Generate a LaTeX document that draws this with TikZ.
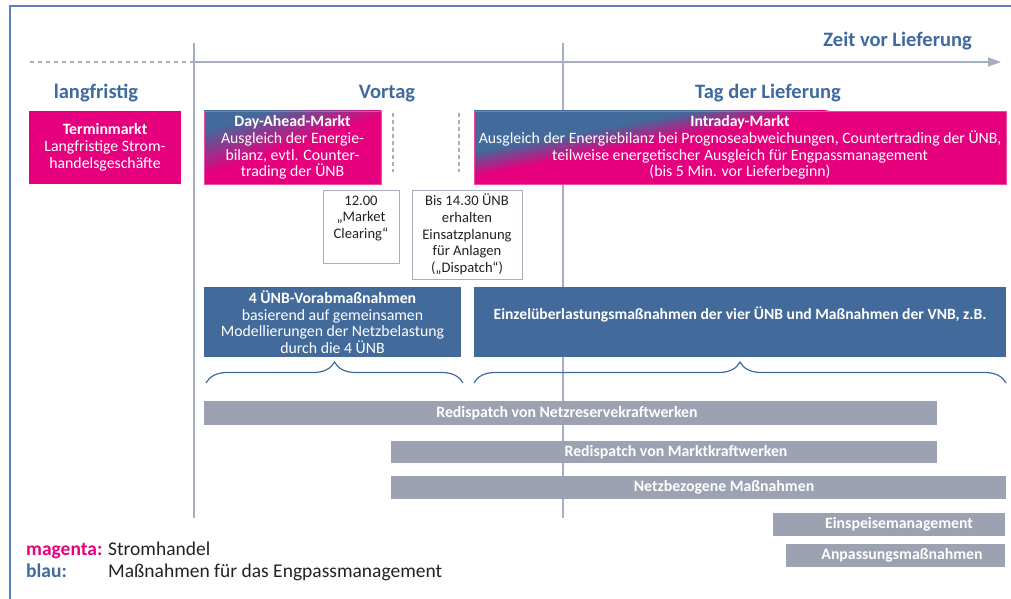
\documentclass[tikz,border=0pt]{standalone}
\usepackage{fontspec}
\setmainfont{Carlito}
\usetikzlibrary{decorations.pathreplacing,arrows.meta}
\definecolor{mg}{HTML}{E6007E}
\definecolor{bl}{HTML}{426A9B}
\definecolor{hbl}{HTML}{3E6A9F}
\definecolor{gbar}{HTML}{9CA2B1}
\definecolor{lgray}{HTML}{A7AEBF}
\definecolor{frame}{HTML}{5A82B8}
\definecolor{txtdark}{HTML}{222222}
% diagonal blue (top-left) -> magenta (bottom/right) gradient, drawn as stacked half-planes
% #1 x0, #2 y0 (top-left corner), #3 shift of isoline along top edge per unit, #4 along left edge per unit,
% #5 value where fully magenta, #6 value where fully blue, #7/#8 clip corners
\newcommand\gradstrips[8]{%
  \begin{scope}
    \clip (#7) rectangle (#8);
    \fill[mg] (#7) rectangle (#8);
    \foreach \i in {0,...,24}{
      \pgfmathsetmacro\cc{#5-(#5-#6)*\i/24}
      \pgfmathtruncatemacro\pp{100*\i/24}
      \pgfmathsetmacro\yy{#2+#4*\cc}
      \fill[bl!\pp!mg] ({#1-3*#3},{\yy+3*#4}) -- ({#1+3*#3},{\yy-3*#4})
        -- ({#1+3*#3-400},{\yy-3*#4-2000}) -- ({#1-3*#3-400},{\yy+3*#4-2000}) -- cycle;
    }
  \end{scope}}
\begin{document}
\begin{tikzpicture}[x=1pt,y=-1pt,
  boxtxt/.style={inner sep=0pt, align=center, text=white, font=\fontsize{15.8}{16.7}\selectfont},
  gradbox/.style={boxtxt, draw=mg!70, line width=0.6pt},
  whitebox/.style={draw=lgray, line width=1pt, fill=white, inner sep=0pt},
  darktxt/.style={inner sep=0pt, align=center, text=txtdark, font=\fontsize{14.6}{16.7}\selectfont},
  heading/.style={inner sep=0pt, text=hbl, font=\fontsize{20.5}{22}\selectfont\bfseries},
  barbox/.style={fill=gbar, inner sep=0pt},
  bartxt/.style={inner sep=0pt, text=white, font=\fontsize{15.8}{17}\selectfont\bfseries},
  vline/.style={draw=lgray, line width=1.3pt},
  bracestyle/.style={draw=hbl, line width=1.2pt, decorate, decoration={brace, amplitude=21pt}},
  legtxt/.style={inner sep=0pt, anchor=base west, font=\fontsize{19.5}{21}\selectfont}
]
\useasboundingbox (0,0) rectangle (1011,599);
% frame
\draw[frame, line width=1.4pt] (10,599) -- (10,6) -- (1011,6);
% time axis
\coordinate (ta0) at (30,62);
\coordinate (ta1) at (194,62);
\coordinate (ta2) at (1001,62);
\draw[lgray, line width=1.8pt, dash pattern=on 4pt off 4pt] (ta0) -- (ta1);
\draw[lgray, line width=1.8pt, -{Triangle[length=13pt,width=9pt]}] (ta1) -- (ta2);
% vertical separators
\coordinate (v1a) at (194,43); \coordinate (v1b) at (194,518);
\coordinate (v2a) at (563,43); \coordinate (v2b) at (563,518);
\draw[vline] (v1a) -- (v1b);
\draw[vline] (v2a) -- (v2b);
% headings
\node[heading, anchor=base east] (zeit) at (972,47) {Zeit vor Lieferung};
\node[heading, anchor=base] (lang) at (96,99) {langfristig};
\node[heading, anchor=base] (vortag) at (387,99) {Vortag};
\node[heading, anchor=base] (tag) at (768,99) {Tag der Lieferung};
% top boxes
\node[boxtxt, fill=mg, minimum width=152pt, minimum height=73pt] (termin) at (105,147.5)
  {\textbf{Terminmarkt}\\Langfristige Strom-\\handelsgeschäfte};
\coordinate (da1) at (204,111); \coordinate (da2) at (381,184);
\gradstrips{204}{111}{132.75}{43.8}{1.5}{0.5}{da1}{da2}
\node[gradbox, minimum width=177pt, minimum height=73pt] (dayahead) at (292.5,147.5)
  {\textbf{Day-Ahead-Markt}\\Ausgleich der Energie-\\bilanz, evtl. Counter-\\trading der ÜNB};
\coordinate (id1) at (474,111); \coordinate (id2) at (1006,184);
\gradstrips{474}{111}{287.3}{54}{1.22}{0.78}{id1}{id2}
\node[gradbox, minimum width=532pt, minimum height=73pt] (intraday) at (740,147.5)
  {\textbf{Intraday-Markt}\\Ausgleich der Energiebilanz bei Prognoseabweichungen, Countertrading der ÜNB,\\teilweise energetischer Ausgleich für Engpassmanagement\\(bis 5 Min. vor Lieferbeginn)};
% dashed markers
\coordinate (d1a) at (393,113); \coordinate (d1b) at (393,172);
\coordinate (d2a) at (459,113); \coordinate (d2b) at (459,172);
\draw[lgray, line width=1.2pt, dash pattern=on 4pt off 3pt] (d1a) -- (d1b);
\draw[lgray, line width=1.2pt, dash pattern=on 4pt off 3pt] (d2a) -- (d2b);
% white boxes
\node[whitebox, minimum width=76pt, minimum height=73pt] (mcbox) at (361,226.5) {};
\node[darktxt] (mctxt) at (361,218.5) {12.00\\„Market\\Clearing“};
\node[whitebox, darktxt, minimum width=110pt, minimum height=89pt] (dispatch) at (467,234.5)
  {Bis 14.30 ÜNB\\erhalten\\Einsatzplanung\\für Anlagen\\(„Dispatch“)};
% blue boxes
\node[boxtxt, fill=bl, minimum width=257pt, minimum height=70pt] (vorab) at (332.5,322)
  {\textbf{4 ÜNB-Vorabmaßnahmen}\\basierend auf gemeinsamen\\Modellierungen der Netzbelastung\\durch die 4 ÜNB};
\node[fill=bl, inner sep=0pt, minimum width=532pt, minimum height=70pt] (einzel) at (740,322) {};
\node[boxtxt, font=\fontsize{15.6}{16.7}\selectfont\bfseries] (einzeltxt) at (740,314)
  {Einzelüberlastungsmaßnahmen der vier ÜNB und Maßnahmen der VNB, z.B.};
% braces
\coordinate (b1a) at (206,383); \coordinate (b1b) at (463,383);
\coordinate (b2a) at (474,383); \coordinate (b2b) at (1006,383);
\draw[bracestyle] (b1a) -- (b1b);
\draw[bracestyle] (b2a) -- (b2b);
% gray bars
\node[barbox, minimum width=733pt, minimum height=24pt] (nr) at (570.5,413) {};
\node[bartxt] (nrt) at (567,413) {Redispatch von Netzreservekraftwerken};
\node[barbox, minimum width=546pt, minimum height=22pt] (mk) at (664,452) {};
\node[bartxt] (mkt) at (676,452) {Redispatch von Marktkraftwerken};
\node[barbox, minimum width=615pt, minimum height=23pt] (nb) at (698.5,487) {};
\node[bartxt] (nbt) at (724,487) {Netzbezogene Maßnahmen};
\node[barbox, minimum width=232pt, minimum height=23pt] (es) at (889,524) {};
\node[bartxt] (est) at (899,524) {Einspeisemanagement};
\node[barbox, minimum width=219pt, minimum height=23pt] (ap) at (895.5,555.5) {};
\node[bartxt] (apt) at (902,555.5) {Anpassungsmaßnahmen};
% legend
\node[legtxt, text=mg, font=\fontsize{19.5}{21}\selectfont\bfseries] (lm) at (26,555) {magenta:};
\node[legtxt, text=txtdark] (lmt) at (108,555) {Stromhandel};
\node[legtxt, text=hbl, font=\fontsize{19.5}{21}\selectfont\bfseries] (lb) at (26,577) {blau:};
\node[legtxt, text=txtdark] (lbt) at (108,577) {Maßnahmen für das Engpassmanagement};
\end{tikzpicture}
\end{document}
